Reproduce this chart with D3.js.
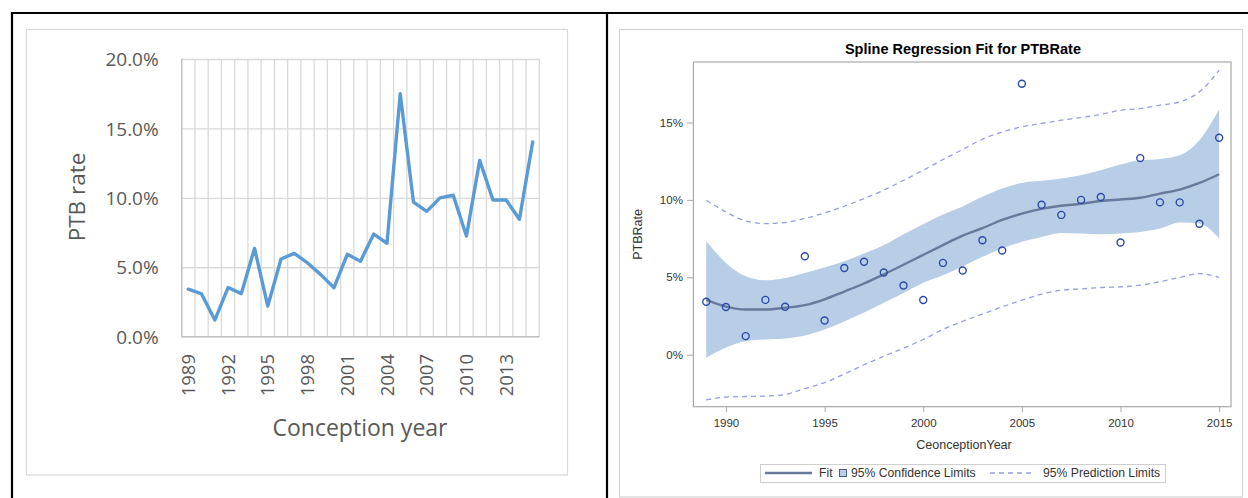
<!DOCTYPE html>
<html>
<head>
<meta charset="utf-8">
<script src="https://cdn.jsdelivr.net/npm/d3@7"></script>
<style>
  html, body { margin: 0; padding: 0; background: #fff; }
  svg { display: block; }
</style>
</head>
<body>
<svg id="fig" width="1248" height="498"></svg>
<script>
// ---- data -------------------------------------------------------------
const years = [1989, 1990, 1991, 1992, 1993, 1994, 1995, 1996, 1997, 1998,
  1999, 2000, 2001, 2002, 2003, 2004, 2005, 2006, 2007, 2008,
  2009, 2010, 2011, 2012, 2013, 2014, 2015];

// observed preterm birth rate, %
const ptbRate = [3.42, 3.08, 1.20, 3.54, 3.10, 6.36, 2.21, 5.60, 6.00, 5.31,
  4.47, 3.53, 5.93, 5.44, 7.39, 6.73, 17.50, 9.69, 9.03, 10.00,
  10.19, 7.25, 12.70, 9.84, 9.84, 8.46, 14.02];

// spline fit and its limits, %
const fitRate = [3.54, 3.11, 2.92, 2.92, 3.03, 3.20, 3.58, 4.08, 4.60, 5.19,
  5.81, 6.45, 7.08, 7.69, 8.17, 8.71, 9.12, 9.42, 9.62, 9.75,
  9.93, 10.03, 10.14, 10.41, 10.67, 11.10, 11.66];
const confLower = [-0.20, 0.46, 0.87, 0.98, 1.05, 1.24, 1.63, 2.14, 2.72, 3.35,
  3.99, 4.65, 5.14, 5.70, 6.32, 6.86, 7.29, 7.61, 7.87, 7.83,
  7.78, 7.83, 7.93, 8.15, 8.54, 8.47, 7.51];
const confUpper = [7.35, 5.93, 5.07, 4.81, 4.96, 5.28, 5.63, 6.04, 6.54, 7.07,
  7.78, 8.43, 9.06, 9.58, 10.20, 10.74, 11.10, 11.23, 11.38, 11.60,
  11.92, 12.29, 12.56, 12.65, 12.89, 13.86, 15.86];
const predLower = [-2.92, -2.74, -2.70, -2.67, -2.57, -2.19, -1.80, -1.25, -0.65, -0.10,
  0.42, 0.98, 1.63, 2.16, 2.62, 3.09, 3.52, 3.91, 4.17, 4.25,
  4.34, 4.38, 4.49, 4.72, 4.99, 5.24, 4.99];
const predUpper = [9.98, 9.22, 8.64, 8.47, 8.54, 8.80, 9.16, 9.59, 10.09, 10.63,
  11.27, 11.92, 12.61, 13.26, 13.92, 14.39, 14.72, 14.94, 15.15, 15.32,
  15.52, 15.79, 15.90, 16.12, 16.33, 16.98, 18.38];

// tick labels
const lineYTicks = [0, 5, 10, 15, 20];
const lineXTickYears = [1989, 1992, 1995, 1998, 2001, 2004, 2007, 2010, 2013];
const splineXTicks = [1990, 1995, 2000, 2005, 2010, 2015];
const splineYTicks = [0, 5, 10, 15];
const legendLabels = ["Fit", "95% Confidence Limits", "95% Prediction Limits"];

// ---- setup ------------------------------------------------------------
const svg = d3.select("#fig");
svg.append("rect").attr("width", 1248).attr("height", 498).attr("fill", "#fff");

const rows = years.map((yr, i) => ({
  year: yr, rate: ptbRate[i], fit: fitRate[i],
  cl: confLower[i], cu: confUpper[i], pl: predLower[i], pu: predUpper[i]
}));

// ---- left panel: line chart ------------------------------------------
const excelFont = "'Open Sans', Lato, sans-serif";
const excelText = "#595959";
const left = svg.append("g");

left.append("rect")
  .attr("x", 26.5).attr("y", 29.5).attr("width", 541).attr("height", 445.5)
  .attr("fill", "#fff").attr("stroke", "#D9D9D9").attr("stroke-width", 1.2);

const xE = d3.scaleBand().domain(years).range([181.7, 539.3]).padding(0);
const yE = d3.scaleLinear().domain([0, 20]).range([336.7, 59]);
const xMid = d => xE(d) + xE.bandwidth() / 2;

// vertical gridlines at category boundaries
const bounds = years.map(d => xE(d)).concat([xE.range()[1]]);
left.append("g").selectAll("line").data(bounds).join("line")
  .attr("x1", d => d).attr("x2", d => d)
  .attr("y1", yE(20)).attr("y2", yE(0))
  .attr("stroke", "#D9D9D9").attr("stroke-width", 1.3);

// horizontal gridlines + labels
const yAxisE = left.append("g")
  .attr("transform", `translate(${xE.range()[0]},0)`)
  .call(d3.axisLeft(yE).tickValues(lineYTicks)
    .tickSize(-(xE.range()[1] - xE.range()[0]))
    .tickPadding(23)
    .tickFormat(d => d3.format(".1f")(d) + "%"));
yAxisE.select(".domain").remove();
yAxisE.selectAll(".tick line").attr("stroke", "#D9D9D9").attr("stroke-width", 1.3);
yAxisE.selectAll(".tick text")
  .attr("fill", excelText).attr("font-family", excelFont).attr("font-size", 19)
  .attr("dy", "0.35em");

// axis lines
left.append("line")
  .attr("x1", xE.range()[0]).attr("x2", xE.range()[1])
  .attr("y1", yE(0)).attr("y2", yE(0))
  .attr("stroke", "#BFBFBF").attr("stroke-width", 1.3);
left.append("line")
  .attr("x1", xE.range()[0]).attr("x2", xE.range()[0])
  .attr("y1", yE(20)).attr("y2", yE(0))
  .attr("stroke", "#BFBFBF").attr("stroke-width", 1.3);

// rotated year labels
left.append("g").selectAll("text").data(lineXTickYears).join("text")
  .attr("transform", d => `translate(${xMid(d)},354) rotate(-90)`)
  .attr("text-anchor", "end")
  .attr("dy", "0.36em")
  .attr("fill", excelText).attr("font-family", excelFont).attr("font-size", 18.5)
  .text(d => d);

// series line
left.append("path")
  .datum(rows)
  .attr("d", d3.line().x(d => xMid(d.year)).y(d => yE(d.rate)))
  .attr("fill", "none").attr("stroke", "#5B9BD5").attr("stroke-width", 3.4)
  .attr("stroke-linejoin", "round").attr("stroke-linecap", "round");

// axis titles
left.append("text")
  .attr("transform", "translate(77,197) rotate(-90)")
  .attr("text-anchor", "middle").attr("dy", "0.35em")
  .attr("fill", excelText).attr("font-family", excelFont).attr("font-size", 22.5)
  .text("PTB rate");
left.append("text")
  .attr("x", 360).attr("y", 428)
  .attr("text-anchor", "middle").attr("dy", "0.35em")
  .attr("fill", excelText).attr("font-family", excelFont).attr("font-size", 23)
  .text("Conception year");

// ---- right panel: spline regression fit -------------------------------
const sasFont = "'Liberation Sans', Arial, sans-serif";
const sasText = "#333333";
const bandFill = "#B8CDE6";
const fitColor = "#687A9C";
const dashColor = "#959FDC";
const markColor = "#2C4BA8";
const right = svg.append("g");

right.append("rect")
  .attr("x", 619.5).attr("y", 29.5).attr("width", 623).attr("height", 467.5)
  .attr("fill", "#fff").attr("stroke", "#D3D3D3").attr("stroke-width", 1.2);

right.append("text")
  .attr("x", 963).attr("y", 49).attr("dy", "0.35em")
  .attr("text-anchor", "middle")
  .attr("font-family", sasFont).attr("font-weight", "bold").attr("font-size", 14.5)
  .attr("fill", "#000")
  .text("Spline Regression Fit for PTBRate");

const xS = d3.scaleLinear().domain([1988.35, 2015.6]).range([693.4, 1231]);
const yS = d3.scaleLinear().domain([-3.36, 18.91]).range([406.7, 62]);

right.append("clipPath").attr("id", "wall")
  .append("rect").attr("x", 693.4).attr("y", 62)
  .attr("width", 1231 - 693.4).attr("height", 406.7 - 62);
const wall = right.append("g").attr("clip-path", "url(#wall)");

// confidence band
wall.append("path")
  .datum(rows)
  .attr("d", d3.area().curve(d3.curveMonotoneX)
    .x(d => xS(d.year)).y0(d => yS(d.cl)).y1(d => yS(d.cu)))
  .attr("fill", bandFill).attr("stroke", "none");

// prediction limits
["pl", "pu"].forEach(k => {
  wall.append("path")
    .datum(rows)
    .attr("d", d3.line().curve(d3.curveMonotoneX)
      .x(d => xS(d.year)).y(d => yS(d[k])))
    .attr("fill", "none").attr("stroke", dashColor).attr("stroke-width", 1.3)
    .attr("stroke-dasharray", "5,4");
});

// fit line
wall.append("path")
  .datum(rows)
  .attr("d", d3.line().curve(d3.curveMonotoneX)
    .x(d => xS(d.year)).y(d => yS(d.fit)))
  .attr("fill", "none").attr("stroke", fitColor).attr("stroke-width", 2.4)
  .attr("stroke-linejoin", "round");

// observations
wall.append("g").selectAll("circle").data(rows).join("circle")
  .attr("cx", d => xS(d.year)).attr("cy", d => yS(d.rate)).attr("r", 3.5)
  .attr("fill", "none").attr("stroke", markColor).attr("stroke-width", 1.4);

// wall frame
right.append("rect")
  .attr("x", 693.4).attr("y", 62)
  .attr("width", 1231 - 693.4).attr("height", 406.7 - 62)
  .attr("fill", "none").attr("stroke", "#A9A9A9").attr("stroke-width", 1.2);

// axes
const yAxisS = right.append("g")
  .attr("transform", "translate(693.4,0)")
  .call(d3.axisLeft(yS).tickValues(splineYTicks).tickSize(6.5).tickPadding(4)
    .tickFormat(d => d + "%"));
const xAxisS = right.append("g")
  .attr("transform", "translate(0,406.7)")
  .call(d3.axisBottom(xS).tickValues(splineXTicks).tickSize(5.5).tickPadding(6.5)
    .tickFormat(d3.format("d")));
[yAxisS, xAxisS].forEach(g => {
  g.select(".domain").remove();
  g.selectAll(".tick line").attr("stroke", "#A9A9A9").attr("stroke-width", 1);
  g.selectAll(".tick text").attr("fill", sasText)
    .attr("font-family", sasFont).attr("font-size", 11.5);
});

right.append("text")
  .attr("transform", "translate(637.5,234.4) rotate(-90)")
  .attr("text-anchor", "middle").attr("dy", "0.35em")
  .attr("font-family", sasFont).attr("font-size", 12.5).attr("fill", sasText)
  .text("PTBRate");
right.append("text")
  .attr("x", 964).attr("y", 445).attr("dy", "0.35em")
  .attr("text-anchor", "middle")
  .attr("font-family", sasFont).attr("font-size", 12.5).attr("fill", sasText)
  .text("CeonceptionYear");

// legend
const lg = right.append("g");
const lgY = 473;
lg.append("rect")
  .attr("x", 760.5).attr("y", 464.5).attr("width", 405).attr("height", 18)
  .attr("fill", "#fff").attr("stroke", "#CFCFCF").attr("stroke-width", 1);
lg.append("line")
  .attr("x1", 765).attr("x2", 812).attr("y1", lgY).attr("y2", lgY)
  .attr("stroke", fitColor).attr("stroke-width", 2.4);
lg.append("rect")
  .attr("x", 839.5).attr("y", lgY - 3.5).attr("width", 7).attr("height", 7)
  .attr("fill", bandFill).attr("stroke", "#4F5F80").attr("stroke-width", 1);
lg.append("line")
  .attr("x1", 990).attr("x2", 1035).attr("y1", lgY).attr("y2", lgY)
  .attr("stroke", dashColor).attr("stroke-width", 1.3).attr("stroke-dasharray", "5,4");
lg.selectAll("text.lab").data([[819, legendLabels[0]], [851, legendLabels[1]], [1043, legendLabels[2]]])
  .join("text").attr("class", "lab")
  .attr("x", d => d[0]).attr("y", lgY).attr("dy", "0.35em")
  .attr("font-family", sasFont).attr("font-size", 12.2).attr("fill", sasText)
  .text(d => d[1]);

// ---- table rules ------------------------------------------------------
const rules = svg.append("g").attr("stroke", "#000").attr("stroke-width", 2.2);
rules.append("line").attr("x1", 11).attr("x2", 1248).attr("y1", 13).attr("y2", 13);
rules.append("line").attr("x1", 12).attr("x2", 12).attr("y1", 12).attr("y2", 498);
rules.append("line").attr("x1", 607).attr("x2", 607).attr("y1", 12).attr("y2", 498);
</script>
</body>
</html>
